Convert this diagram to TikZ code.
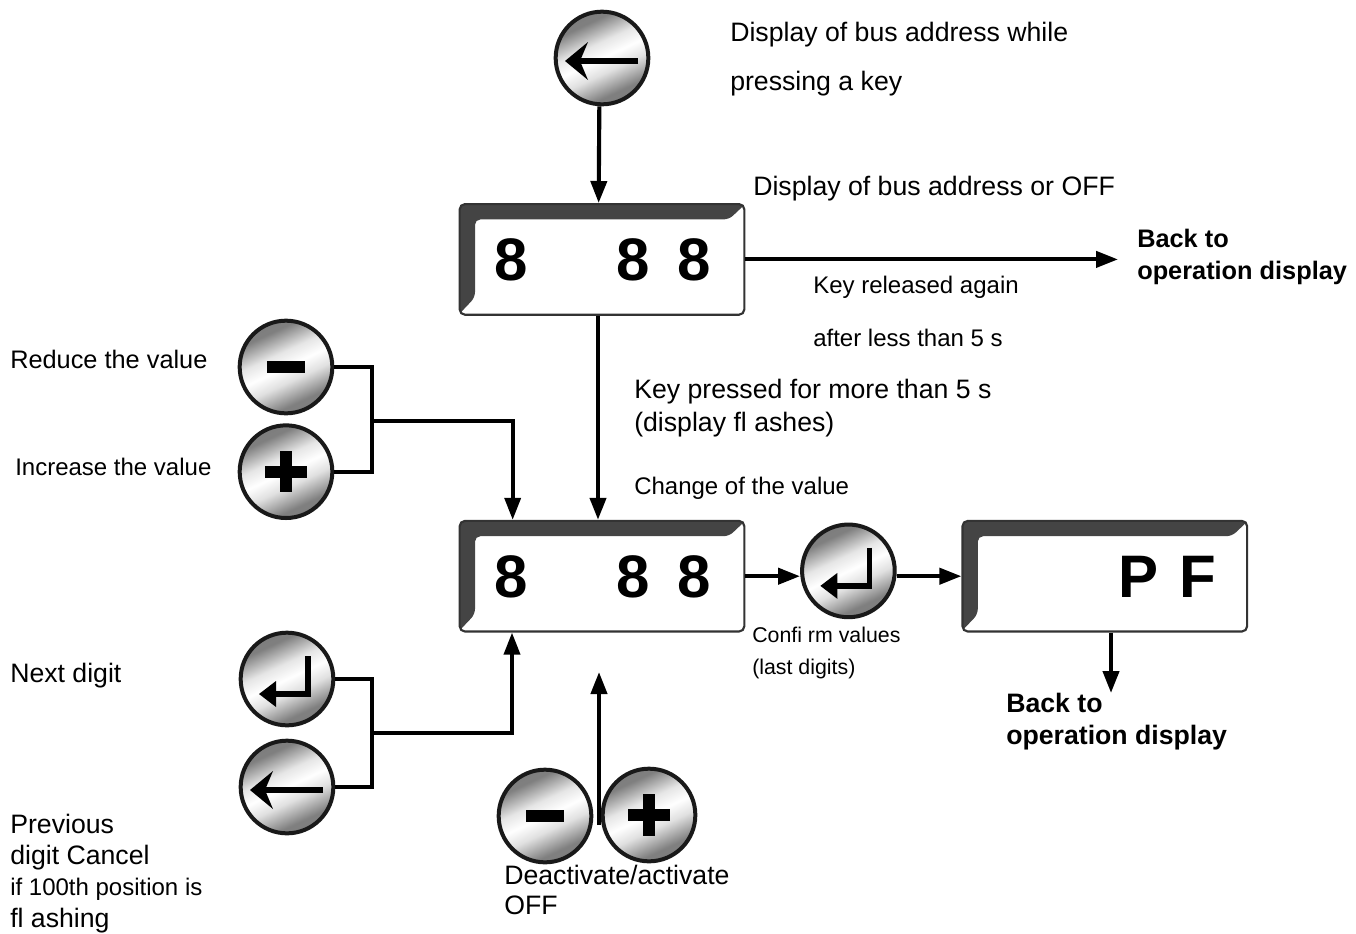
\documentclass[tikz,border=0pt]{standalone}
\usepackage{fontspec}
\setmainfont{Liberation Sans}
\usepackage{xcolor}
\usetikzlibrary{arrows.meta, positioning}
\definecolor{bevelgrey}{RGB}{68, 68, 68}
\pgfdeclareverticalshading{metal}{100bp}{color(0bp)=(black!55); color(30bp)=(black!50); color(42bp)=(black!12); color(50bp)=(white); color(58bp)=(black!10); color(70bp)=(black!50); color(100bp)=(black!55)}

\begin{document}
\begin{tikzpicture}[
    x=0.75pt, y=-0.75pt,
    keybtn/.style={
        circle,
        draw=black!90,
        line width=3pt,
        shading=metal,
        shading angle=25,
        minimum size=69.5pt,
        inner sep=0pt
    },
    minusglyph/.style={path picture={
        \fill[black] ([xshift=-14.5pt,yshift=-4.5pt]path picture bounding box.center) rectangle ([xshift=14.5pt,yshift=4.5pt]path picture bounding box.center);
    }},
    plusglyph/.style={path picture={
        \fill[black] ([xshift=-15.5pt,yshift=-4.5pt]path picture bounding box.center) rectangle ([xshift=15.5pt,yshift=4.5pt]path picture bounding box.center);
        \fill[black] ([xshift=-4.5pt,yshift=-15.5pt]path picture bounding box.center) rectangle ([xshift=4.5pt,yshift=15.5pt]path picture bounding box.center);
    }},
    backglyph/.style={path picture={
        \begin{scope}[shift={(path picture bounding box.center)}]
            \draw[black, line width=3.8pt] (36,3) -- (-26,3);
            \fill[black] (-37,3) -- (-14,-16) -- (-22,3) -- (-14,22) -- cycle;
        \end{scope}
    }},
    enterglyph/.style={path picture={
        \begin{scope}[shift={(path picture bounding box.center)}]
            \draw[black, line width=4pt] (21,-23) -- (21,15) -- (-14,15);
            \fill[black] (-28,15) -- (-11,2) -- (-11,28) -- cycle;
        \end{scope}
    }},
    display/.style={
        rectangle,
        draw=black!80,
        fill=white,
        line width=1.6pt,
        rounded corners=4pt,
        minimum width=213.5pt,
        minimum height=83pt,
        inner sep=0pt,
        path picture={
            \begin{scope}[shift={(path picture bounding box.center)}]
                \fill[bevelgrey] (-145,-57) -- (145,-57) -- (127,-40) -- (-127,-40) -- (-127,38) -- (-145,57) -- cycle;
            \end{scope}
        }
    },
    digit/.style={font=\fontsize{45}{45}\selectfont\bfseries, inner sep=0pt, yshift=-0.5pt},
    edge/.style={-{Triangle[length=16.5pt, width=12pt]}, line width=3.1pt, draw=black},
    wire/.style={line width=2.8pt, draw=black},
    textbig/.style={anchor=base west, inner sep=0pt, align=left, font=\fontsize{20}{24.5}\selectfont},
    textmid/.style={anchor=base west, inner sep=0pt, align=left, font=\fontsize{18}{24}\selectfont},
    textbold/.style={anchor=base west, inner sep=0pt, align=left, font=\fontsize{20}{23.5}\selectfont\bfseries}
]
    \useasboundingbox (0,0) rectangle (1356,933);

    \node[keybtn, backglyph] (keytop) at (602,58) {};
    \node[display, below=72.5pt of keytop] (dispone) {};
    \node[display, below=153pt of dispone] (disptwo) {};
    \node[display, right=162pt of disptwo] (dispthree) {};
    \node[keybtn, enterglyph, right=41pt of disptwo, yshift=4pt] (keyok) {};

    \node[keybtn, minusglyph] (keyminus) at (286,367) {};
    \node[keybtn, plusglyph, below=6pt of keyminus] (keyplus) {};
    \node[keybtn, enterglyph] (keynext) at (287,679) {};
    \node[keybtn, backglyph, below=8.5pt of keynext] (keyprev) {};
    \node[keybtn, minusglyph] (keyoff) at (545,816) {};
    \node[keybtn, plusglyph] (keyon) at (649,815) {};

    \node[digit] (digaone) at ([xshift=-68pt]dispone.center) {8};
    \node[digit] (digatwo) at ([xshift=23.5pt]dispone.center) {8};
    \node[digit] (digathree) at ([xshift=69.5pt]dispone.center) {8};
    \node[digit] (digbone) at ([xshift=-68pt]disptwo.center) {8};
    \node[digit] (digbtwo) at ([xshift=23.5pt]disptwo.center) {8};
    \node[digit] (digbthree) at ([xshift=69.5pt]disptwo.center) {8};
    \node[digit] (digcone) at ([xshift=25pt]dispthree.center) {P};
    \node[digit] (digctwo) at ([xshift=70pt]dispthree.center) {F};

    \coordinate (backtip) at (1118,260);
    \coordinate (jointup) at (372,421);
    \coordinate (jointdown) at (372,733);
    \coordinate (offfoot) at (599,825);
    \coordinate (offtip) at (599,672);
    \coordinate (exittip) at (1111,693);

    \draw[edge] ([xshift=-2pt]keytop.south) -- ([xshift=-2.5pt]dispone.north);
    \draw[edge] (dispone.east) -- (dispone.east -| backtip);
    \draw[edge] ([xshift=-3pt]dispone.south) -- ([xshift=-3pt]disptwo.north);
    \draw[wire] (keyminus.east) -| (jointup) |- (keyplus.east);
    \draw[edge, line width=2.8pt] (jointup) -| ([xshift=-67pt]disptwo.north);
    \draw[wire] (keynext.east) -| (jointdown) |- (keyprev.east);
    \draw[edge, line width=2.8pt] (jointdown) -| ([xshift=-67.5pt]disptwo.south);
    \draw[edge] (offfoot) -- (offtip);
    \draw[edge] (disptwo.east) -- (disptwo.east -| keyok.west);
    \draw[edge] (dispthree.west -| keyok.east) -- (dispthree.west);
    \draw[edge] (exittip |- dispthree.south) -- (exittip);

    \node[textbig, font=\fontsize{20}{36.75}\selectfont] (txtpress) at (730,90) {Display of bus address while\\pressing a key};
    \node[textbig] (txtaddr) at (753,195) {Display of bus address or OFF};
    \node[textbold, font=\fontsize{19}{23.5}\selectfont\bfseries] (txtbackone) at (1137,279) {Back to\\operation display};
    \node[textmid, font=\fontsize{18}{39.75}\selectfont] (txtreleased) at (813,346) {Key released again\\after less than 5 s};
    \node[textbig] (txtmore) at (634,431) {Key pressed for more than 5 s\\(display fl ashes)};
    \node[textmid] (txtchange) at (634,494) {Change of the value};
    \node[textbig, font=\fontsize{19}{24}\selectfont] (txtreduce) at (10,368) {Reduce the value};
    \node[textmid] (txtincrease) at (15,475) {Increase the value};
    \node[textbig] (txtnext) at (10,682) {Next digit};
    \node[textbig, font=\fontsize{20}{23.5}\selectfont] (txtprev) at (10,927) {Previous\\digit Cancel\\{\fontsize{18}{23.5}\selectfont if 100th position is}\\fl ashing};
    \node[textbig, font=\fontsize{20}{22}\selectfont] (txtoff) at (504,914) {Deactivate/activate\\OFF};
    \node[textmid, font=\fontsize{16}{24}\selectfont] (txtconfirm) at (752,674) {Confi rm values\\(last digits)};
    \node[textbold] (txtbacktwo) at (1006,744) {Back to\\operation display};
\end{tikzpicture}
\end{document}
